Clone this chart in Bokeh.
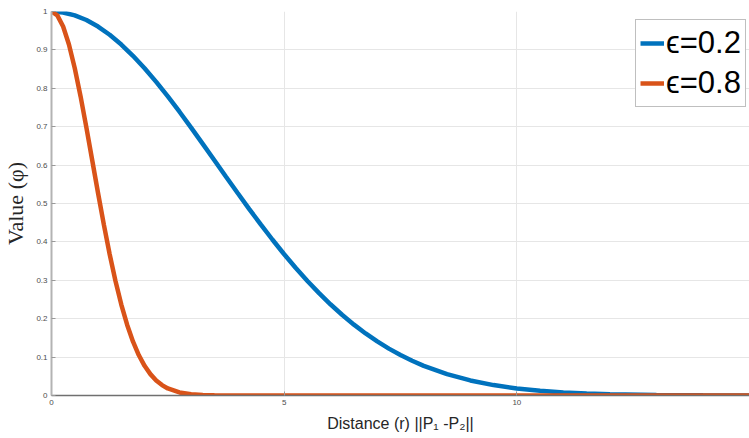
from bokeh.plotting import figure
from bokeh.models import Range1d, FixedTicker, CustomJSTickFormatter
from bokeh.embed import file_html
from bokeh.resources import INLINE

# Gaussian RBF values phi(r) for two shape parameters
r_eps02 = [0, 0.25, 0.5, 0.75, 1, 1.25, 1.5, 1.75, 2, 2.25, 2.5, 2.75, 3, 3.25,
           3.5, 3.75, 4, 4.25, 4.5, 4.75, 5, 5.25, 5.5, 5.75, 6, 6.25, 6.5, 6.75,
           7, 7.25, 7.5, 7.75, 8, 8.5, 9, 9.5, 10, 10.5, 11, 11.5, 12, 13, 14, 15]
phi_eps02 = [1.0, 0.9975, 0.990, 0.9778, 0.9608, 0.9394, 0.9139, 0.8847, 0.8521,
             0.8167, 0.7788, 0.7390, 0.6977, 0.6554, 0.6126, 0.5698, 0.5273,
             0.4855, 0.4449, 0.4056, 0.3679, 0.3321, 0.2982, 0.2665, 0.2369,
             0.2096, 0.1845, 0.1616, 0.1409, 0.1221, 0.1054, 0.0905, 0.0773,
             0.0556, 0.0392, 0.0271, 0.0183, 0.0122, 0.0079, 0.0050, 0.0032,
             0.0012, 0.0004, 0.0001]

r_eps08 = [0, 0.125, 0.25, 0.375, 0.5, 0.625, 0.75, 0.875, 1, 1.125, 1.25, 1.375,
           1.5, 1.625, 1.75, 1.875, 2, 2.125, 2.25, 2.375, 2.5, 2.75, 3, 3.25,
           3.5, 4, 15]
phi_eps08 = [1.0, 0.9900, 0.9608, 0.9139, 0.8521, 0.7788, 0.6977, 0.6126, 0.5273,
             0.4449, 0.3679, 0.2982, 0.2369, 0.1845, 0.1409, 0.1054, 0.0773,
             0.0556, 0.0392, 0.0271, 0.0183, 0.0079, 0.0032, 0.0012, 0.0004,
             0.0, 0.0]

x_ticks = [0, 5, 10]
y_ticks = [0, 0.1, 0.2, 0.3, 0.4, 0.5, 0.6, 0.7, 0.8, 0.9, 1.0]

BLUE = "#0072BD"
ORANGE = "#D95319"

p = figure(width=749, height=438, x_range=Range1d(0, 15), y_range=Range1d(0, 1),
           output_backend="svg", toolbar_location=None,
           min_border_left=49, min_border_right=0, min_border_top=11,
           min_border_bottom=43)
p.outline_line_color = None

p.line(r_eps02, phi_eps02, line_color=BLUE, line_width=4.5, legend_label="ϵ=0.2")
p.line(r_eps08, phi_eps08, line_color=ORANGE, line_width=4.5, legend_label="ϵ=0.8")

fmt = CustomJSTickFormatter(code="return String(Math.round(tick * 10) / 10);")

p.xaxis.ticker = FixedTicker(ticks=x_ticks)
p.yaxis.ticker = FixedTicker(ticks=y_ticks)
p.xaxis.formatter = fmt
p.yaxis.formatter = fmt

for ax in (p.xaxis[0], p.yaxis[0]):
    ax.major_tick_in = 4
    ax.major_tick_out = 0
    ax.minor_tick_in = 0
    ax.minor_tick_out = 0
    ax.major_label_text_font = "Liberation Sans"
    ax.major_label_text_font_size = "8px"
    ax.major_label_text_color = "#4d4d4d"
    ax.major_label_standoff = 4

p.yaxis.axis_line_color = "#b3b3b3"
p.yaxis.axis_line_width = 2
p.yaxis.major_tick_line_color = "#999999"
p.xaxis.axis_line_color = "#707070"
p.xaxis.axis_line_width = 1.5
p.xaxis.major_tick_line_color = "#999999"

p.xaxis.axis_label = "Distance (r) ||P\u2081 -P\u2082||"
p.xaxis.axis_label_text_font = "Liberation Sans"
p.xaxis.axis_label_text_font_style = "normal"
p.xaxis.axis_label_text_font_size = "16px"
p.xaxis.axis_label_text_color = "#262626"
p.xaxis.axis_label_standoff = 7

p.yaxis.axis_label = "Value (\u03c6)"
p.yaxis.axis_label_text_font = "Liberation Serif"
p.yaxis.axis_label_text_font_style = "normal"
p.yaxis.axis_label_text_font_size = "22px"
p.yaxis.axis_label_text_color = "#262626"
p.yaxis.axis_label_standoff = 5

p.xgrid.grid_line_color = "#e6e6e6"
p.ygrid.grid_line_color = "#e6e6e6"

lg = p.legend[0]
lg.location = (584, 288)
lg.label_text_font = "Liberation Sans"
lg.label_text_font_size = "31px"
lg.label_text_color = "black"
lg.glyph_width = 24
lg.glyph_height = 38
lg.label_height = 38
lg.label_standoff = 2
lg.spacing = 2
lg.padding = 4
lg.margin = 0
lg.border_line_color = "#7f7f7f"
lg.border_line_width = 1
lg.background_fill_alpha = 1.0

open("out.html", "w").write(file_html(p, INLINE))
